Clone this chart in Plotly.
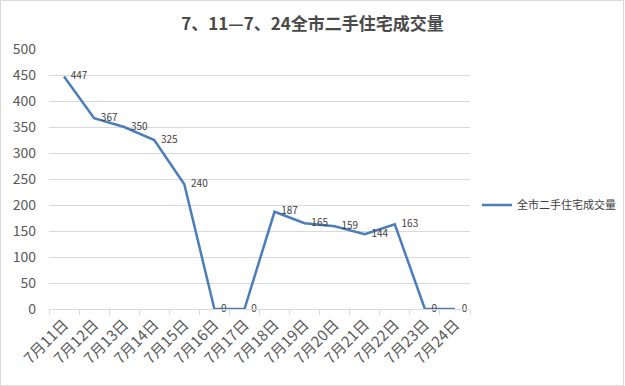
import plotly.graph_objects as go

categories = ["7月11日", "7月12日", "7月13日", "7月14日", "7月15日", "7月16日", "7月17日",
              "7月18日", "7月19日", "7月20日", "7月21日", "7月22日", "7月23日", "7月24日"]
values = [447, 367, 350, 325, 240, 0, 0, 187, 165, 159, 144, 163, 0, 0]
series_name = "全市二手住宅成交量"
title_text = "7、11—7、24全市二手住宅成交量"
y_ticks = [0, 50, 100, 150, 200, 250, 300, 350, 400, 450, 500]

W, H = 625, 386
L, R, T, B = 49, 155, 49, 77
pw = W - L - R
ph = H - T - B

font_family = "Noto Sans CJK SC, Noto Sans, sans-serif"

fig = go.Figure()
fig.add_trace(go.Scatter(
    x=categories, y=values, name=series_name,
    mode="lines+text",
    line=dict(color="#4a7ebb", width=2.5),
    text=["   " + str(v) for v in values],
    textposition="middle right",
    textfont=dict(size=10, color="#404040", family=font_family),
    cliponaxis=False,
))

fig.update_layout(
    width=W, height=H,
    margin=dict(l=L, r=R, t=T, b=B, autoexpand=False),
    paper_bgcolor="white", plot_bgcolor="white",
    title=dict(text="<b>" + title_text + "</b>", x=312.5 / W, xanchor="center",
               y=1 - 24 / H, yanchor="middle",
               font=dict(size=17, color="#4a4a4a", family=font_family)),
    font=dict(family=font_family, color="#595959"),
    showlegend=True,
    legend=dict(x=(477 - L) / pw, xanchor="left", y=(309 - 205) / ph, yanchor="middle",
                font=dict(size=11, color="#404040", family=font_family),
                bgcolor="rgba(0,0,0,0)"),
    xaxis=dict(
        type="category", tickangle=-45, tickson="boundaries",
        ticks="outside", ticklen=5, tickcolor="#d9d9d9",
        showline=True, linecolor="#d9d9d9", linewidth=1,
        showgrid=False, tickfont=dict(size=15, color="#595959"),
        range=[-0.5, len(categories) - 0.5], automargin=False,
    ),
    yaxis=dict(
        range=[0, 500], tickvals=y_ticks, showgrid=True, gridcolor="#d9d9d9",
        zeroline=False, showline=False, ticks="",
        tickfont=dict(size=14, color="#595959"),
        ticklabelstandoff=12, automargin=False,
    ),
    shapes=[dict(type="rect", xref="paper", yref="paper",
                 x0=(0.5 - L) / pw, x1=(W - 1.5 - L) / pw,
                 y0=-(B - 0.5) / ph, y1=1 + (T - 0.5) / ph,
                 line=dict(color="#d9d9d9", width=1), layer="below")],
)

fig.write_html("out.html", config={"displayModeBar": False},
               post_script="document.body.style.margin='0';document.body.style.overflow='hidden';")
